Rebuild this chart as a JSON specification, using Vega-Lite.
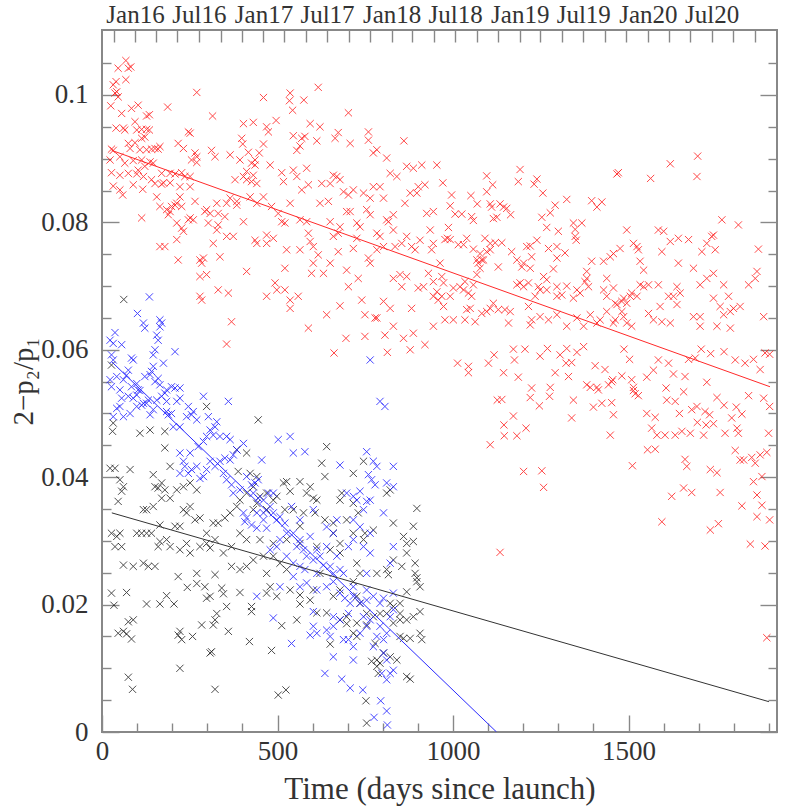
{
"$schema":"https://vega.github.io/schema/vega-lite/v6.json",
"width":675,"height":702,
"autosize":{"type":"none"},
"padding":{"left":102,"top":30,"right":12,"bottom":80},
"background":"white",
"config":{
 "view":{"stroke":"#888","strokeWidth":2},
 "axis":{"domain":false,"grid":false,"labelFont":"Liberation Serif","titleFont":"Liberation Serif","labelColor":"#333","titleColor":"#333","tickColor":"#888","tickWidth":1.4,"titleFontWeight":"normal","labelFlush":false,"labelOverlap":false}
},
"datasets":{
"red":[
{"t":68,"v":0.1054},{"t":46,"v":0.1042},{"t":75,"v":0.1042},{"t":82,"v":0.1044},{"t":40,"v":0.1021},{"t":68,"v":0.1024},{"t":32,"v":0.1016},{"t":42,"v":0.1005},{"t":46,"v":0.0997},{"t":37,"v":0.1003},{"t":270,"v":0.1004},{"t":25,"v":0.0983},{"t":84,"v":0.0979},{"t":103,"v":0.0984},{"t":56,"v":0.0971},{"t":127,"v":0.0967},{"t":135,"v":0.0969},{"t":187,"v":0.0981},{"t":460,"v":0.0996},{"t":536,"v":0.1003},{"t":534,"v":0.0991},{"t":543,"v":0.0976},{"t":575,"v":0.0992},{"t":616,"v":0.1012},{"t":702,"v":0.0972},{"t":315,"v":0.0967},{"t":40,"v":0.0948},{"t":61,"v":0.0948},{"t":65,"v":0.0945},{"t":94,"v":0.0958},{"t":99,"v":0.0945},{"t":113,"v":0.0946},{"t":127,"v":0.0946},{"t":135,"v":0.0945},{"t":113,"v":0.0932},{"t":122,"v":0.0934},{"t":246,"v":0.0942},{"t":251,"v":0.094},{"t":403,"v":0.0955},{"t":431,"v":0.0957},{"t":469,"v":0.095},{"t":474,"v":0.0942},{"t":496,"v":0.096},{"t":593,"v":0.0955},{"t":621,"v":0.095},{"t":545,"v":0.0936},{"t":569,"v":0.0932},{"t":578,"v":0.0935},{"t":564,"v":0.092},{"t":555,"v":0.0913},{"t":612,"v":0.0928},{"t":673,"v":0.0941},{"t":664,"v":0.0932},{"t":707,"v":0.0924},{"t":759,"v":0.0942},{"t":759,"v":0.0929},{"t":860,"v":0.0928},{"t":398,"v":0.0932},{"t":401,"v":0.0923},{"t":460,"v":0.0923},{"t":27,"v":0.0915},{"t":32,"v":0.0913},{"t":75,"v":0.0924},{"t":80,"v":0.0916},{"t":94,"v":0.0925},{"t":108,"v":0.0914},{"t":127,"v":0.0914},{"t":141,"v":0.0915},{"t":151,"v":0.0916},{"t":160,"v":0.0915},{"t":217,"v":0.0924},{"t":232,"v":0.0916},{"t":312,"v":0.0913},{"t":322,"v":0.0903},{"t":365,"v":0.0906},{"t":393,"v":0.0898},{"t":417,"v":0.091},{"t":448,"v":0.0909},{"t":426,"v":0.0893},{"t":436,"v":0.089},{"t":436,"v":0.0898},{"t":265,"v":0.0909},{"t":255,"v":0.0898},{"t":270,"v":0.0894},{"t":270,"v":0.0903},{"t":51,"v":0.0903},{"t":23,"v":0.0898},{"t":65,"v":0.0893},{"t":89,"v":0.0897},{"t":113,"v":0.0898},{"t":137,"v":0.0895},{"t":122,"v":0.0888},{"t":146,"v":0.0893},{"t":103,"v":0.0882},{"t":27,"v":0.0878},{"t":51,"v":0.0874},{"t":75,"v":0.0877},{"t":99,"v":0.0876},{"t":118,"v":0.0872},{"t":141,"v":0.0867},{"t":151,"v":0.0861},{"t":170,"v":0.086},{"t":175,"v":0.0862},{"t":194,"v":0.0877},{"t":208,"v":0.0876},{"t":227,"v":0.0878},{"t":236,"v":0.0872},{"t":251,"v":0.0856},{"t":222,"v":0.0856},{"t":194,"v":0.0862},{"t":251,"v":0.0872},{"t":32,"v":0.0857},{"t":51,"v":0.0851},{"t":59,"v":0.0843},{"t":89,"v":0.0859},{"t":116,"v":0.0852},{"t":170,"v":0.0877},{"t":156,"v":0.084},{"t":165,"v":0.0825},{"t":189,"v":0.0812},{"t":194,"v":0.0817},{"t":208,"v":0.0827},{"t":222,"v":0.084},{"t":227,"v":0.0825},{"t":213,"v":0.0799},{"t":227,"v":0.0791},{"t":232,"v":0.0786},{"t":246,"v":0.0804},{"t":251,"v":0.0807},{"t":260,"v":0.0804},{"t":265,"v":0.0833},{"t":293,"v":0.0817},{"t":298,"v":0.082},{"t":308,"v":0.0814},{"t":303,"v":0.0799},{"t":327,"v":0.083},{"t":331,"v":0.0814},{"t":331,"v":0.0796},{"t":350,"v":0.0809},{"t":355,"v":0.083},{"t":365,"v":0.0838},{"t":379,"v":0.0867},{"t":384,"v":0.0833},{"t":384,"v":0.0827},{"t":403,"v":0.0872},{"t":412,"v":0.088},{"t":412,"v":0.0867},{"t":426,"v":0.0864},{"t":441,"v":0.0861},{"t":431,"v":0.0874},{"t":479,"v":0.089},{"t":512,"v":0.0878},{"t":517,"v":0.0864},{"t":545,"v":0.0882},{"t":555,"v":0.0872},{"t":569,"v":0.0851},{"t":588,"v":0.0859},{"t":583,"v":0.0885},{"t":626,"v":0.0861},{"t":650,"v":0.0861},{"t":659,"v":0.0874},{"t":669,"v":0.0872},{"t":678,"v":0.0867},{"t":688,"v":0.0848},{"t":702,"v":0.0843},{"t":716,"v":0.0851},{"t":745,"v":0.0846},{"t":764,"v":0.0838},{"t":773,"v":0.0856},{"t":792,"v":0.0856},{"t":802,"v":0.0838},{"t":783,"v":0.0914},{"t":773,"v":0.0909},{"t":811,"v":0.0901},{"t":821,"v":0.0877},{"t":840,"v":0.0872},{"t":868,"v":0.0888},{"t":887,"v":0.0885},{"t":911,"v":0.089},{"t":954,"v":0.089},{"t":901,"v":0.0856},{"t":897,"v":0.0846},{"t":920,"v":0.0859},{"t":863,"v":0.083},{"t":878,"v":0.0846},{"t":830,"v":0.0812},{"t":811,"v":0.0804},{"t":925,"v":0.0814},{"t":944,"v":0.0817},{"t":422,"v":0.084},{"t":441,"v":0.083},{"t":460,"v":0.084},{"t":483,"v":0.0825},{"t":502,"v":0.0814},{"t":512,"v":0.0801},{"t":521,"v":0.0799},{"t":536,"v":0.083},{"t":564,"v":0.0804},{"t":583,"v":0.0801},{"t":588,"v":0.0783},{"t":593,"v":0.077},{"t":602,"v":0.0762},{"t":616,"v":0.0749},{"t":621,"v":0.083},{"t":645,"v":0.0833},{"t":650,"v":0.0801},{"t":659,"v":0.0778},{"t":673,"v":0.0783},{"t":678,"v":0.0793},{"t":697,"v":0.0817},{"t":707,"v":0.0817},{"t":726,"v":0.0799},{"t":735,"v":0.0793},{"t":754,"v":0.082},{"t":764,"v":0.0812},{"t":783,"v":0.0783},{"t":792,"v":0.0778},{"t":802,"v":0.0762},{"t":816,"v":0.0801},{"t":830,"v":0.0788},{"t":854,"v":0.0767},{"t":868,"v":0.0778},{"t":882,"v":0.0762},{"t":906,"v":0.0772},{"t":935,"v":0.0788},{"t":944,"v":0.0767},{"t":939,"v":0.0757},{"t":892,"v":0.0757},{"t":835,"v":0.0762},{"t":783,"v":0.0757},{"t":759,"v":0.0744},{"t":764,"v":0.0736},{"t":726,"v":0.0775},{"t":716,"v":0.0759},{"t":673,"v":0.0754},{"t":650,"v":0.0736},{"t":631,"v":0.072},{"t":602,"v":0.0736},{"t":597,"v":0.072},{"t":564,"v":0.0757},{"t":526,"v":0.0757},{"t":488,"v":0.0775},{"t":469,"v":0.0767},{"t":469,"v":0.078},{"t":441,"v":0.0767},{"t":436,"v":0.0772},{"t":403,"v":0.0801},{"t":374,"v":0.0778},{"t":355,"v":0.0778},{"t":327,"v":0.0788},{"t":317,"v":0.0767},{"t":279,"v":0.0741},{"t":284,"v":0.0736},{"t":289,"v":0.0744},{"t":279,"v":0.0715},{"t":298,"v":0.0718},{"t":279,"v":0.0684},{"t":284,"v":0.0678},{"t":331,"v":0.0694},{"t":360,"v":0.0689},{"t":336,"v":0.0746},{"t":412,"v":0.0723},{"t":469,"v":0.0684},{"t":493,"v":0.0705},{"t":498,"v":0.0694},{"t":521,"v":0.0694},{"t":536,"v":0.0678},{"t":559,"v":0.0684},{"t":536,"v":0.0665},{"t":521,"v":0.0728},{"t":678,"v":0.0669},{"t":697,"v":0.0725},{"t":702,"v":0.0699},{"t":730,"v":0.0712},{"t":740,"v":0.0678},{"t":749,"v":0.0655},{"t":783,"v":0.065},{"t":802,"v":0.0676},{"t":821,"v":0.0665},{"t":830,"v":0.0712},{"t":849,"v":0.0718},{"t":854,"v":0.0699},{"t":868,"v":0.0715},{"t":882,"v":0.0665},{"t":901,"v":0.0697},{"t":916,"v":0.0699},{"t":930,"v":0.072},{"t":944,"v":0.0707},{"t":954,"v":0.0691},{"t":944,"v":0.0684},{"t":958,"v":0.0678},{"t":369,"v":0.0644},{"t":588,"v":0.0634},{"t":640,"v":0.0655},{"t":778,"v":0.065},{"t":830,"v":0.0637},{"t":944,"v":0.0637},{"t":217,"v":0.0741},{"t":113,"v":0.0807},{"t":179,"v":0.0762},{"t":165,"v":0.0762},{"t":213,"v":0.0773},{"t":165,"v":0.0919},{"t":184,"v":0.082},{"t":198,"v":0.0825},{"t":213,"v":0.083},
{"t":355,"v":0.0609},{"t":661,"v":0.0595},{"t":695,"v":0.0618},{"t":749,"v":0.0621},{"t":806,"v":0.0623},{"t":813,"v":0.0596},{"t":859,"v":0.0618},{"t":887,"v":0.0626},{"t":878,"v":0.06},{"t":920,"v":0.0608},
{"t":1697,"v":0.0904},{"t":1619,"v":0.0892},{"t":1471,"v":0.0878},{"t":1467,"v":0.0876},{"t":1563,"v":0.0869},{"t":1695,"v":0.0872},{"t":1191,"v":0.0883},{"t":1186,"v":0.0864},{"t":1096,"v":0.0873},{"t":1113,"v":0.0859},{"t":1096,"v":0.0848},{"t":1051,"v":0.0842},{"t":996,"v":0.0843},{"t":971,"v":0.0862},{"t":1239,"v":0.0868},{"t":1231,"v":0.086},{"t":1256,"v":0.0846},{"t":992,"v":0.0826},{"t":1006,"v":0.0813},{"t":1025,"v":0.0813},{"t":1053,"v":0.0809},{"t":1058,"v":0.0803},{"t":1069,"v":0.0829},{"t":1106,"v":0.0829},{"t":1110,"v":0.0824},{"t":1115,"v":0.0806},{"t":1125,"v":0.0808},{"t":1134,"v":0.0829},{"t":1144,"v":0.0824},{"t":1153,"v":0.0822},{"t":1164,"v":0.0812},{"t":1253,"v":0.0808},{"t":1267,"v":0.0792},{"t":1277,"v":0.0815},{"t":1291,"v":0.0827},{"t":1324,"v":0.0836},{"t":1395,"v":0.0834},{"t":1410,"v":0.0824},{"t":1424,"v":0.0832},{"t":1343,"v":0.0799},{"t":1367,"v":0.0799},{"t":1348,"v":0.0789},{"t":1348,"v":0.0778},{"t":1351,"v":0.0772},{"t":1300,"v":0.0786},{"t":987,"v":0.0792},{"t":984,"v":0.0775},{"t":977,"v":0.0773},{"t":1015,"v":0.0765},{"t":1030,"v":0.0765},{"t":1039,"v":0.0775},{"t":1091,"v":0.0775},{"t":1120,"v":0.0768},{"t":1139,"v":0.0768},{"t":1058,"v":0.0758},{"t":1077,"v":0.0751},{"t":1082,"v":0.0741},{"t":1068,"v":0.0741},{"t":1096,"v":0.0754},{"t":1106,"v":0.0757},{"t":1129,"v":0.073},{"t":1167,"v":0.0754},{"t":1182,"v":0.0741},{"t":1201,"v":0.0736},{"t":1196,"v":0.073},{"t":1210,"v":0.0762},{"t":1220,"v":0.0763},{"t":1224,"v":0.0746},{"t":1220,"v":0.0728},{"t":1239,"v":0.0772},{"t":1272,"v":0.0759},{"t":1296,"v":0.0762},{"t":1296,"v":0.0744},{"t":1286,"v":0.0727},{"t":1319,"v":0.0752},{"t":1324,"v":0.07},{"t":1258,"v":0.0715},{"t":1267,"v":0.071},{"t":1243,"v":0.0699},{"t":1267,"v":0.0694},{"t":1296,"v":0.0699},{"t":1310,"v":0.0686},{"t":1296,"v":0.0684},{"t":1353,"v":0.0694},{"t":1362,"v":0.0689},{"t":1343,"v":0.0681},{"t":1381,"v":0.0723},{"t":1381,"v":0.0712},{"t":1376,"v":0.0707},{"t":1386,"v":0.0699},{"t":1395,"v":0.0739},{"t":1429,"v":0.0739},{"t":1438,"v":0.0712},{"t":1448,"v":0.0746},{"t":1457,"v":0.0751},{"t":1457,"v":0.0697},{"t":1429,"v":0.0694},{"t":1438,"v":0.0684},{"t":1462,"v":0.0673},{"t":1467,"v":0.0671},{"t":1481,"v":0.0676},{"t":1486,"v":0.0681},{"t":1495,"v":0.0673},{"t":1505,"v":0.0684},{"t":1509,"v":0.0689},{"t":1524,"v":0.0684},{"t":1533,"v":0.0702},{"t":1543,"v":0.0699},{"t":1557,"v":0.0702},{"t":1585,"v":0.0702},{"t":1590,"v":0.0668},{"t":1557,"v":0.0657},{"t":1571,"v":0.0647},{"t":1595,"v":0.0644},{"t":1619,"v":0.0642},{"t":1481,"v":0.066},{"t":1486,"v":0.0652},{"t":1495,"v":0.0642},{"t":1509,"v":0.0637},{"t":1476,"v":0.0759},{"t":1495,"v":0.0788},{"t":1514,"v":0.0767},{"t":1524,"v":0.0762},{"t":1528,"v":0.0757},{"t":1533,"v":0.0739},{"t":1543,"v":0.0725},{"t":1585,"v":0.0788},{"t":1595,"v":0.0754},{"t":1600,"v":0.0786},{"t":1619,"v":0.077},{"t":1642,"v":0.0775},{"t":1642,"v":0.0736},{"t":1671,"v":0.0773},{"t":1685,"v":0.0728},{"t":1709,"v":0.0754},{"t":1723,"v":0.0767},{"t":1737,"v":0.0778},{"t":1742,"v":0.078},{"t":1747,"v":0.0757},{"t":1766,"v":0.0804},{"t":1813,"v":0.0796},{"t":1870,"v":0.0758},{"t":1866,"v":0.0723},{"t":1861,"v":0.0712},{"t":1842,"v":0.0702},{"t":1742,"v":0.072},{"t":1723,"v":0.0712},{"t":1704,"v":0.0702},{"t":1771,"v":0.0702},{"t":1785,"v":0.0684},{"t":1761,"v":0.0668},{"t":1771,"v":0.0655},{"t":1799,"v":0.0665},{"t":1818,"v":0.0668},{"t":1790,"v":0.066},{"t":1742,"v":0.0681},{"t":1685,"v":0.0652},{"t":1704,"v":0.0652},{"t":1638,"v":0.0699},{"t":1647,"v":0.0689},{"t":1628,"v":0.0684},{"t":1614,"v":0.0684},{"t":1638,"v":0.0671},{"t":1704,"v":0.0637},{"t":1752,"v":0.0637},{"t":1790,"v":0.0634},{"t":1885,"v":0.0652},{"t":992,"v":0.0773},{"t":963,"v":0.0736},{"t":968,"v":0.0715},{"t":973,"v":0.0705},{"t":968,"v":0.0684},{"t":992,"v":0.0684},{"t":1001,"v":0.0697},{"t":1020,"v":0.0699},{"t":1030,"v":0.0694},{"t":1034,"v":0.0707},{"t":1044,"v":0.0689},{"t":1053,"v":0.0684},{"t":1049,"v":0.0665},{"t":1058,"v":0.0702},{"t":1068,"v":0.0718},{"t":1072,"v":0.0736},{"t":1077,"v":0.0728},{"t":1087,"v":0.0741},{"t":1106,"v":0.0767},{"t":973,"v":0.0668},{"t":977,"v":0.0647},{"t":1001,"v":0.0647},{"t":1034,"v":0.0647},{"t":1039,"v":0.0663},{"t":1063,"v":0.0644},{"t":1082,"v":0.0657},{"t":1096,"v":0.066},{"t":1106,"v":0.0665},{"t":1115,"v":0.0673},{"t":1129,"v":0.0663},{"t":1148,"v":0.0663},{"t":1158,"v":0.0642},{"t":1163,"v":0.066},{"t":1182,"v":0.0702},{"t":1191,"v":0.0705},{"t":1201,"v":0.0699},{"t":1215,"v":0.0705},{"t":1215,"v":0.0668},{"t":1224,"v":0.0647},{"t":1220,"v":0.0639},{"t":1248,"v":0.0652},{"t":1234,"v":0.0684},{"t":1248,"v":0.0694},{"t":1272,"v":0.0647},{"t":1296,"v":0.0655},{"t":1324,"v":0.0637},{"t":1353,"v":0.065},{"t":1372,"v":0.0637},{"t":1391,"v":0.0655},{"t":1410,"v":0.0642},{"t":1419,"v":0.0647},{"t":1438,"v":0.066},{"t":1457,"v":0.0642},{"t":1462,"v":0.0647},
{"t":1013,"v":0.0579},{"t":1044,"v":0.0574},{"t":1044,"v":0.0564},{"t":1101,"v":0.0579},{"t":1117,"v":0.0592},{"t":1144,"v":0.0564},{"t":1172,"v":0.0601},{"t":1175,"v":0.0584},{"t":1186,"v":0.0557},{"t":1205,"v":0.0601},{"t":1248,"v":0.059},{"t":1269,"v":0.0602},{"t":1291,"v":0.0564},{"t":1305,"v":0.0592},{"t":1324,"v":0.0602},{"t":1322,"v":0.0579},{"t":1329,"v":0.0558},{"t":1338,"v":0.058},{"t":1353,"v":0.0596},{"t":1372,"v":0.0605},{"t":1405,"v":0.0575},{"t":1433,"v":0.0569},{"t":1455,"v":0.0553},{"t":1481,"v":0.0559},{"t":1487,"v":0.0601},{"t":1503,"v":0.0585},{"t":1509,"v":0.0553},{"t":1514,"v":0.0541},{"t":1528,"v":0.0528},{"t":1552,"v":0.0557},{"t":1571,"v":0.0568},{"t":1585,"v":0.0584},{"t":1614,"v":0.0579},{"t":1628,"v":0.0562},{"t":1661,"v":0.0558},{"t":1671,"v":0.0585},{"t":1690,"v":0.0587},{"t":1707,"v":0.0601},{"t":1734,"v":0.0594},{"t":1772,"v":0.0597},{"t":1804,"v":0.0584},{"t":1832,"v":0.0579},{"t":1856,"v":0.0585},{"t":1875,"v":0.0569},{"t":1902,"v":0.0593},{"t":1889,"v":0.0595},{"t":1391,"v":0.0541},{"t":1410,"v":0.0541},{"t":1414,"v":0.0537},{"t":1443,"v":0.0545},{"t":1452,"v":0.055},{"t":1514,"v":0.0536},{"t":1519,"v":0.0531},{"t":1381,"v":0.0545},{"t":1224,"v":0.054},{"t":1220,"v":0.0525},{"t":1246,"v":0.0512},{"t":1277,"v":0.0541},{"t":1275,"v":0.0527},{"t":1343,"v":0.0521},{"t":1400,"v":0.051},{"t":1424,"v":0.0516},{"t":1452,"v":0.0517},{"t":1457,"v":0.0498},{"t":1172,"v":0.0496},{"t":1145,"v":0.0482},{"t":1146,"v":0.0465},{"t":1182,"v":0.0465},{"t":1208,"v":0.0477},{"t":1126,"v":0.0521},{"t":1139,"v":0.0522},{"t":1106,"v":0.0451},{"t":1338,"v":0.0493},{"t":1448,"v":0.0466},{"t":1552,"v":0.05},{"t":1576,"v":0.0494},{"t":1609,"v":0.0521},{"t":1633,"v":0.0519},{"t":1645,"v":0.05},{"t":1657,"v":0.0534},{"t":1607,"v":0.054},{"t":1680,"v":0.0506},{"t":1695,"v":0.0511},{"t":1718,"v":0.0503},{"t":1731,"v":0.0498},{"t":1742,"v":0.0484},{"t":1696,"v":0.0486},{"t":1721,"v":0.0482},{"t":1714,"v":0.0466},{"t":1676,"v":0.0469},{"t":1652,"v":0.0472},{"t":1633,"v":0.0466},{"t":1604,"v":0.0466},{"t":1581,"v":0.0466},{"t":1566,"v":0.0477},{"t":1752,"v":0.0525},{"t":1772,"v":0.0513},{"t":1807,"v":0.051},{"t":1794,"v":0.0493},{"t":1823,"v":0.0499},{"t":1809,"v":0.0477},{"t":1813,"v":0.0469},{"t":1775,"v":0.0469},{"t":1842,"v":0.0528},{"t":1885,"v":0.0524},{"t":1902,"v":0.0511},{"t":1899,"v":0.0469},{"t":1804,"v":0.0442},{"t":1818,"v":0.0427},{"t":1828,"v":0.0427},{"t":1851,"v":0.0431},{"t":1861,"v":0.0422},{"t":1856,"v":0.0393},{"t":1880,"v":0.0401},{"t":1894,"v":0.0439},{"t":1875,"v":0.0435},{"t":1866,"v":0.0372},{"t":1880,"v":0.0356},{"t":1823,"v":0.0355},{"t":1866,"v":0.0338},{"t":1902,"v":0.0333},{"t":1889,"v":0.0292},{"t":1847,"v":0.0295},{"t":1733,"v":0.0317},{"t":1756,"v":0.0327},{"t":1595,"v":0.033},{"t":1623,"v":0.037},{"t":1680,"v":0.0376},{"t":1657,"v":0.0383},{"t":1666,"v":0.0417},{"t":1661,"v":0.0428},{"t":1733,"v":0.0412},{"t":1752,"v":0.0407},{"t":1761,"v":0.0376},{"t":1554,"v":0.0443},{"t":1576,"v":0.0444},{"t":1511,"v":0.0418},{"t":1201,"v":0.0409},{"t":1253,"v":0.041},{"t":1258,"v":0.0384},{"t":1134,"v":0.0282},{"t":1894,"v":0.0148},{"t":1723,"v":0.0549}
],
"blue":[
{"t":135,"v":0.0683},{"t":101,"v":0.0657},{"t":118,"v":0.0642},{"t":122,"v":0.0634},{"t":165,"v":0.0647},{"t":170,"v":0.0642},{"t":165,"v":0.0636},{"t":37,"v":0.0627},{"t":23,"v":0.0615},{"t":32,"v":0.061},{"t":56,"v":0.0608},{"t":156,"v":0.0623},{"t":160,"v":0.0615},{"t":151,"v":0.06},{"t":208,"v":0.0597},{"t":146,"v":0.0592},{"t":27,"v":0.0592},{"t":32,"v":0.0584},{"t":84,"v":0.0587},{"t":89,"v":0.0584},{"t":175,"v":0.0579},{"t":146,"v":0.0574},{"t":141,"v":0.0566},{"t":75,"v":0.0568},{"t":70,"v":0.056},{"t":61,"v":0.0553},{"t":42,"v":0.0558},{"t":23,"v":0.0553},{"t":27,"v":0.0542},{"t":51,"v":0.0537},{"t":84,"v":0.0542},{"t":99,"v":0.0547},{"t":108,"v":0.0536},{"t":122,"v":0.0558},{"t":137,"v":0.0561},{"t":151,"v":0.055},{"t":160,"v":0.0555},{"t":165,"v":0.0545},{"t":184,"v":0.0537},{"t":179,"v":0.0532},{"t":198,"v":0.0542},{"t":208,"v":0.054},{"t":222,"v":0.054},{"t":222,"v":0.0524},{"t":213,"v":0.0519},{"t":184,"v":0.0519},{"t":170,"v":0.0527},{"t":156,"v":0.0521},{"t":132,"v":0.0521},{"t":118,"v":0.0516},{"t":103,"v":0.0537},{"t":99,"v":0.0529},{"t":89,"v":0.0524},{"t":75,"v":0.0527},{"t":56,"v":0.0524},{"t":51,"v":0.0511},{"t":42,"v":0.0508},{"t":32,"v":0.0495},{"t":61,"v":0.0495},{"t":80,"v":0.05},{"t":99,"v":0.0511},{"t":113,"v":0.0513},{"t":127,"v":0.0516},{"t":137,"v":0.0498},{"t":146,"v":0.0506},{"t":184,"v":0.0503},{"t":189,"v":0.0498},{"t":198,"v":0.05},{"t":203,"v":0.0479},{"t":222,"v":0.0479},{"t":241,"v":0.0495},{"t":255,"v":0.0498},{"t":246,"v":0.0511},{"t":260,"v":0.0503},{"t":270,"v":0.049},{"t":289,"v":0.0527},{"t":360,"v":0.0519},{"t":303,"v":0.0495},{"t":308,"v":0.0474},{"t":322,"v":0.0479},{"t":327,"v":0.0487},{"t":298,"v":0.0464},{"t":317,"v":0.0466},{"t":336,"v":0.0464},{"t":355,"v":0.0464},{"t":365,"v":0.0459},{"t":289,"v":0.0456},{"t":274,"v":0.0448},{"t":251,"v":0.0438},{"t":222,"v":0.0438},{"t":232,"v":0.0425},{"t":236,"v":0.0417},{"t":222,"v":0.0406},{"t":246,"v":0.0406},{"t":255,"v":0.0412},{"t":270,"v":0.0417},{"t":279,"v":0.0398},{"t":289,"v":0.0401},{"t":298,"v":0.0412},{"t":308,"v":0.0425},{"t":322,"v":0.0417},{"t":336,"v":0.0425},{"t":350,"v":0.043},{"t":365,"v":0.0427},{"t":374,"v":0.0435},{"t":384,"v":0.0443},{"t":403,"v":0.0453},{"t":346,"v":0.0406},{"t":355,"v":0.0396},{"t":369,"v":0.0388},{"t":374,"v":0.0375},{"t":393,"v":0.038},{"t":412,"v":0.0401},{"t":426,"v":0.0388},{"t":436,"v":0.0391},{"t":445,"v":0.0396},{"t":455,"v":0.0427},{"t":431,"v":0.0375},{"t":445,"v":0.0367},{"t":460,"v":0.0364},{"t":474,"v":0.0375},{"t":488,"v":0.0375},{"t":479,"v":0.0354},{"t":460,"v":0.0344},{"t":441,"v":0.0344},{"t":412,"v":0.0336},{"t":403,"v":0.0344},{"t":407,"v":0.033},{"t":426,"v":0.0325},{"t":441,"v":0.032},{"t":460,"v":0.0333},{"t":469,"v":0.032},{"t":488,"v":0.0344},{"t":498,"v":0.0333},{"t":507,"v":0.0338},{"t":521,"v":0.0328},{"t":540,"v":0.0354},{"t":526,"v":0.0312},{"t":507,"v":0.0302},{"t":498,"v":0.0291},{"t":545,"v":0.0312},{"t":555,"v":0.0291},{"t":564,"v":0.0302},{"t":574,"v":0.0286},{"t":583,"v":0.0276},{"t":602,"v":0.027},{"t":621,"v":0.0276},{"t":631,"v":0.0262},{"t":650,"v":0.026},{"t":659,"v":0.0249},{"t":678,"v":0.0255},{"t":688,"v":0.0249},{"t":669,"v":0.0276},{"t":640,"v":0.0291},{"t":612,"v":0.0286},{"t":593,"v":0.0307},{"t":602,"v":0.0349},{"t":564,"v":0.0333},{"t":479,"v":0.0286},{"t":526,"v":0.0276},{"t":545,"v":0.0265},{"t":564,"v":0.026},{"t":578,"v":0.0255},{"t":502,"v":0.0459},{"t":536,"v":0.0464},{"t":545,"v":0.0438},{"t":578,"v":0.044},{"t":640,"v":0.0322},{"t":659,"v":0.0312},{"t":669,"v":0.0333},{"t":678,"v":0.0419},{"t":697,"v":0.0375},{"t":716,"v":0.037},{"t":735,"v":0.0378},{"t":726,"v":0.0364},{"t":754,"v":0.0362},{"t":764,"v":0.0364},{"t":745,"v":0.0349},{"t":716,"v":0.0333},{"t":735,"v":0.0322},{"t":764,"v":0.0312},{"t":716,"v":0.0302},{"t":702,"v":0.0291},{"t":745,"v":0.0291},{"t":764,"v":0.0281},{"t":783,"v":0.0417},{"t":759,"v":0.0404},{"t":768,"v":0.0396},{"t":778,"v":0.0388},{"t":754,"v":0.044},{"t":773,"v":0.0425},{"t":811,"v":0.0391},{"t":830,"v":0.0417},{"t":830,"v":0.0385},{"t":792,"v":0.0519},{"t":806,"v":0.0511},{"t":764,"v":0.0584},{"t":802,"v":0.0344},{"t":830,"v":0.0291},{"t":821,"v":0.0265},{"t":754,"v":0.0249},{"t":612,"v":0.0249},{"t":545,"v":0.0244},
{"t":507,"v":0.0228},{"t":564,"v":0.0228},{"t":583,"v":0.0234},{"t":612,"v":0.0223},{"t":640,"v":0.0228},{"t":659,"v":0.0236},{"t":678,"v":0.0218},{"t":692,"v":0.021},{"t":707,"v":0.0202},{"t":716,"v":0.0213},{"t":735,"v":0.0202},{"t":754,"v":0.0207},{"t":773,"v":0.0213},{"t":792,"v":0.0202},{"t":802,"v":0.021},{"t":754,"v":0.0223},{"t":716,"v":0.0228},{"t":702,"v":0.0186},{"t":678,"v":0.0176},{"t":659,"v":0.0166},{"t":640,"v":0.016},{"t":650,"v":0.015},{"t":612,"v":0.0155},{"t":602,"v":0.0166},{"t":593,"v":0.0152},{"t":540,"v":0.0139},{"t":602,"v":0.0189},{"t":659,"v":0.0181},{"t":688,"v":0.0145},{"t":702,"v":0.0145},{"t":716,"v":0.0134},{"t":735,"v":0.0155},{"t":754,"v":0.0166},{"t":764,"v":0.0176},{"t":745,"v":0.0181},{"t":783,"v":0.015},{"t":802,"v":0.0145},{"t":811,"v":0.0155},{"t":821,"v":0.0181},{"t":830,"v":0.0218},{"t":830,"v":0.0192},{"t":792,"v":0.0166},{"t":773,"v":0.0134},{"t":802,"v":0.0124},{"t":811,"v":0.0113},{"t":821,"v":0.0092},{"t":830,"v":0.0097},{"t":811,"v":0.0082},{"t":797,"v":0.0092},{"t":659,"v":0.0118},{"t":716,"v":0.0113},{"t":635,"v":0.0092},{"t":683,"v":0.0083},{"t":707,"v":0.0069},{"t":743,"v":0.0066},{"t":794,"v":0.0049},{"t":811,"v":0.0033},{"t":775,"v":0.0023},{"t":813,"v":0.0011},{"t":488,"v":0.0179},{"t":441,"v":0.0213}
],
"black":[
{"t":62,"v":0.0679},{"t":27,"v":0.0576},{"t":32,"v":0.0485},{"t":30,"v":0.0472},{"t":108,"v":0.0469},{"t":137,"v":0.0474},{"t":179,"v":0.0446},{"t":179,"v":0.0472},{"t":194,"v":0.0417},{"t":23,"v":0.0414},{"t":37,"v":0.0414},{"t":80,"v":0.0412},{"t":146,"v":0.0404},{"t":151,"v":0.0385},{"t":170,"v":0.0391},{"t":51,"v":0.0396},{"t":61,"v":0.0385},{"t":56,"v":0.0378},{"t":46,"v":0.0362},{"t":118,"v":0.0349},{"t":127,"v":0.0349},{"t":146,"v":0.0354},{"t":160,"v":0.0383},{"t":170,"v":0.0367},{"t":179,"v":0.038},{"t":194,"v":0.0367},{"t":213,"v":0.038},{"t":232,"v":0.0385},{"t":251,"v":0.0391},{"t":270,"v":0.038},{"t":251,"v":0.0354},{"t":265,"v":0.0333},{"t":279,"v":0.0336},{"t":232,"v":0.0349},{"t":241,"v":0.0344},{"t":222,"v":0.0323},{"t":208,"v":0.0323},{"t":165,"v":0.0325},{"t":141,"v":0.0312},{"t":127,"v":0.0312},{"t":113,"v":0.0312},{"t":99,"v":0.0312},{"t":27,"v":0.0312},{"t":42,"v":0.0307},{"t":51,"v":0.0312},{"t":37,"v":0.0291},{"t":56,"v":0.0291},{"t":61,"v":0.0262},{"t":89,"v":0.026},{"t":118,"v":0.0265},{"t":132,"v":0.026},{"t":151,"v":0.026},{"t":160,"v":0.0291},{"t":165,"v":0.0299},{"t":184,"v":0.0302},{"t":194,"v":0.0291},{"t":222,"v":0.0286},{"t":241,"v":0.0296},{"t":251,"v":0.0281},{"t":279,"v":0.0291},{"t":298,"v":0.0296},{"t":308,"v":0.0289},{"t":322,"v":0.0302},{"t":346,"v":0.0281},{"t":369,"v":0.0291},{"t":217,"v":0.0244},{"t":270,"v":0.0249},{"t":298,"v":0.0312},{"t":317,"v":0.0328},{"t":331,"v":0.0328},{"t":350,"v":0.0336},{"t":365,"v":0.0344},{"t":384,"v":0.0354},{"t":393,"v":0.0364},{"t":412,"v":0.0375},{"t":431,"v":0.0385},{"t":441,"v":0.0401},{"t":422,"v":0.0406},{"t":388,"v":0.0409},{"t":298,"v":0.0511},{"t":445,"v":0.049},{"t":384,"v":0.0443},{"t":412,"v":0.0438},{"t":626,"v":0.0422},{"t":640,"v":0.0448},{"t":716,"v":0.0406},{"t":745,"v":0.0425},{"t":635,"v":0.0401},{"t":517,"v":0.0391},{"t":526,"v":0.0393},{"t":564,"v":0.0393},{"t":593,"v":0.0385},{"t":602,"v":0.0367},{"t":612,"v":0.0364},{"t":583,"v":0.0375},{"t":536,"v":0.0378},{"t":498,"v":0.037},{"t":488,"v":0.0364},{"t":469,"v":0.0375},{"t":450,"v":0.037},{"t":441,"v":0.0359},{"t":431,"v":0.0349},{"t":469,"v":0.0349},{"t":521,"v":0.0349},{"t":545,"v":0.0349},{"t":564,"v":0.0323},{"t":574,"v":0.0344},{"t":607,"v":0.0344},{"t":659,"v":0.0328},{"t":697,"v":0.0333},{"t":716,"v":0.0359},{"t":683,"v":0.0375},{"t":678,"v":0.0364},{"t":730,"v":0.0344},{"t":749,"v":0.0312},{"t":716,"v":0.0312},{"t":659,"v":0.0312},{"t":635,"v":0.0333},{"t":678,"v":0.0296},{"t":745,"v":0.0302},{"t":773,"v":0.0317},{"t":830,"v":0.0328},{"t":887,"v":0.0323},{"t":897,"v":0.0351},{"t":811,"v":0.0375},{"t":821,"v":0.038},{"t":859,"v":0.0307},{"t":868,"v":0.0296},{"t":887,"v":0.0299},{"t":830,"v":0.027},{"t":868,"v":0.0281},{"t":811,"v":0.0255},{"t":854,"v":0.026},{"t":892,"v":0.0265},{"t":726,"v":0.0265},{"t":678,"v":0.0281},{"t":650,"v":0.0286},{"t":612,"v":0.0291},{"t":564,"v":0.0296},{"t":526,"v":0.0302},{"t":488,"v":0.0296},{"t":450,"v":0.0302},{"t":412,"v":0.0302},{"t":393,"v":0.0312},{"t":369,"v":0.026},{"t":393,"v":0.0255},{"t":412,"v":0.026},{"t":431,"v":0.027},{"t":460,"v":0.0276},{"t":488,"v":0.0276},{"t":507,"v":0.0265},{"t":526,"v":0.0255},{"t":322,"v":0.0247},{"t":469,"v":0.0249},{"t":621,"v":0.0249},{"t":735,"v":0.0249},{"t":783,"v":0.0249},{"t":816,"v":0.0247},{"t":892,"v":0.0249},{"t":897,"v":0.0242},
{"t":27,"v":0.0218},{"t":34,"v":0.0199},{"t":70,"v":0.0219},{"t":127,"v":0.0201},{"t":165,"v":0.0201},{"t":205,"v":0.0201},{"t":184,"v":0.0214},{"t":243,"v":0.0227},{"t":61,"v":0.0158},{"t":46,"v":0.0155},{"t":70,"v":0.0154},{"t":84,"v":0.0146},{"t":89,"v":0.0176},{"t":75,"v":0.0173},{"t":222,"v":0.0158},{"t":217,"v":0.0152},{"t":227,"v":0.0145},{"t":258,"v":0.015},{"t":284,"v":0.0168},{"t":317,"v":0.0168},{"t":322,"v":0.0176},{"t":327,"v":0.0186},{"t":360,"v":0.0158},{"t":312,"v":0.0126},{"t":308,"v":0.0124},{"t":420,"v":0.0142},{"t":483,"v":0.0128},{"t":222,"v":0.01},{"t":75,"v":0.0086},{"t":87,"v":0.0067},{"t":322,"v":0.0067},{"t":502,"v":0.0058},{"t":524,"v":0.0066},{"t":426,"v":0.0197},{"t":426,"v":0.0189},{"t":393,"v":0.0219},{"t":355,"v":0.0197},{"t":346,"v":0.0217},{"t":341,"v":0.0226},{"t":308,"v":0.0213},{"t":298,"v":0.021},{"t":293,"v":0.0228},{"t":270,"v":0.0233},{"t":564,"v":0.0201},{"t":512,"v":0.0167},{"t":555,"v":0.0176},{"t":612,"v":0.0187},{"t":650,"v":0.0138},{"t":697,"v":0.017},{"t":716,"v":0.0155},{"t":754,"v":0.0168},{"t":726,"v":0.015},{"t":778,"v":0.0139},{"t":783,"v":0.0113},{"t":792,"v":0.0108},{"t":783,"v":0.0103},{"t":768,"v":0.0111},{"t":787,"v":0.0092},{"t":802,"v":0.0124},{"t":821,"v":0.0118},{"t":840,"v":0.0113},{"t":849,"v":0.015},{"t":859,"v":0.0147},{"t":878,"v":0.0147},{"t":906,"v":0.0155},{"t":911,"v":0.0145},{"t":868,"v":0.0087},{"t":878,"v":0.0083},{"t":830,"v":0.0171},{"t":849,"v":0.0176},{"t":868,"v":0.0176},{"t":887,"v":0.0181},{"t":906,"v":0.0189},{"t":830,"v":0.0197},{"t":849,"v":0.0202},{"t":849,"v":0.0186},{"t":811,"v":0.0186},{"t":792,"v":0.0186},{"t":773,"v":0.0181},{"t":754,"v":0.0186},{"t":726,"v":0.0171},{"t":697,"v":0.0181},{"t":678,"v":0.0176},{"t":659,"v":0.0213},{"t":678,"v":0.0223},{"t":716,"v":0.0236},{"t":726,"v":0.0213},{"t":735,"v":0.0202},{"t":640,"v":0.0187},{"t":593,"v":0.0207},{"t":564,"v":0.0215},{"t":536,"v":0.0223},{"t":498,"v":0.0213},{"t":479,"v":0.0228},{"t":469,"v":0.0218},{"t":602,"v":0.0223},{"t":752,"v":0.0049},{"t":754,"v":0.0014},{"t":868,"v":0.022},{"t":897,"v":0.0236},{"t":821,"v":0.0202},{"t":906,"v":0.0228}
],
"redfit":[{"t":28,"v":0.0913},{"t":1903,"v":0.0542}],
"bluefit":[{"t":28,"v":0.0581},{"t":1124,"v":0}],
"blackfit":[{"t":28,"v":0.0344},{"t":1900,"v":0.00476}]
},
"resolve":{"axis":{"x":"independent","y":"independent"}},
"layer":[
{"data":{"name":"red"},
 "mark":{"type":"point","shape":"M-1,-1L1,1M-1,1L1,-1","filled":false,"size":52,"strokeWidth":1,"color":"#ff1a1a","opacity":0.8,"clip":true},
 "encoding":{
  "x":{"field":"t","type":"quantitative","scale":{"domain":[0,1923],"nice":false,"zero":false},
   "axis":{"orient":"bottom","values":[0,500,1000,1500],"format":"d","ticks":false,"labelFontSize":27,"labelBaseline":"alphabetic","labelPadding":27,"title":"Time (days since launch)","titleFontSize":31,"titleBaseline":"alphabetic","titleY":66}},
  "y":{"field":"v","type":"quantitative","scale":{"domain":[0,0.1102],"nice":false,"zero":false},
   "axis":{"orient":"left","values":[0,0.02,0.04,0.06,0.08,0.1],"format":".2~f","ticks":false,"labelFontSize":27,"labelPadding":14,"title":"2−p₂/p₁","titleFontSize":29,"titleX":-64,"titleY":351}}}},
{"data":{"name":"black"},
 "mark":{"type":"point","shape":"M-1,-1L1,1M-1,1L1,-1","filled":false,"size":52,"strokeWidth":1,"color":"#111111","opacity":0.75,"clip":true},
 "encoding":{
  "x":{"field":"t","type":"quantitative","scale":{"domain":[0,1923],"nice":false,"zero":false},
   "axis":{"orient":"bottom","values":[0,500,1000,1500],"labels":false,"tickSize":-17,"title":null}},
  "y":{"field":"v","type":"quantitative","scale":{"domain":[0,0.1102],"nice":false,"zero":false},
   "axis":{"orient":"left","values":[0,0.02,0.04,0.06,0.08,0.1],"labels":false,"tickSize":-17,"title":null}}}},
{"data":{"name":"blue"},
 "mark":{"type":"point","shape":"M-1,-1L1,1M-1,1L1,-1","filled":false,"size":52,"strokeWidth":1,"color":"#1a1aff","opacity":0.8,"clip":true},
 "encoding":{
  "x":{"field":"t","type":"quantitative","scale":{"domain":[0,1923],"nice":false,"zero":false},
   "axis":{"orient":"bottom","values":[100,200,300,400,600,700,800,900,1100,1200,1300,1400,1600,1700,1800,1900],"labels":false,"tickSize":-9,"title":null}},
  "y":{"field":"v","type":"quantitative","scale":{"domain":[0,0.1102],"nice":false,"zero":false},
   "axis":{"orient":"left","values":[0.005,0.01,0.015,0.025,0.03,0.035,0.045,0.05,0.055,0.065,0.07,0.075,0.085,0.09,0.095,0.105],"labels":false,"tickSize":-9,"title":null}}}},
{"data":{"name":"redfit"},
 "mark":{"type":"line","color":"#ff2a2a","strokeWidth":1,"clip":true},
 "encoding":{
  "x":{"field":"t","type":"quantitative","scale":{"domain":[0,1923],"nice":false,"zero":false},
   "axis":{"orient":"top","values":[33,94,154,215,276,338,399,460,519,580,641,703,764,825,884,945,1006,1068,1129,1190,1249,1310,1371,1433,1494,1555,1615,1676,1737,1799,1860],"labels":false,"tickSize":-12,"title":null}},
  "y":{"field":"v","type":"quantitative","scale":{"domain":[0,0.1102],"nice":false,"zero":false},
   "axis":{"orient":"right","values":[0,0.02,0.04,0.06,0.08,0.1],"labels":false,"tickSize":-17,"title":null}}}},
{"data":{"name":"bluefit"},
 "mark":{"type":"line","color":"#2a2aff","strokeWidth":1,"clip":true},
 "encoding":{
  "x":{"field":"t","type":"quantitative","scale":{"domain":[0,1923],"nice":false,"zero":false},
   "axis":{"orient":"top","values":[94,276,460,641,825,1006,1190,1371,1555,1737],"ticks":false,"labelFontSize":25,"labelBaseline":"alphabetic","labelPadding":8,"title":null,
    "labelExpr":"datum.value==94?'Jan16':datum.value==276?'Jul16':datum.value==460?'Jan17':datum.value==641?'Jul17':datum.value==825?'Jan18':datum.value==1006?'Jul18':datum.value==1190?'Jan19':datum.value==1371?'Jul19':datum.value==1555?'Jan20':'Jul20'"}},
  "y":{"field":"v","type":"quantitative","scale":{"domain":[0,0.1102],"nice":false,"zero":false},
   "axis":{"orient":"right","values":[0.005,0.01,0.015,0.025,0.03,0.035,0.045,0.05,0.055,0.065,0.07,0.075,0.085,0.09,0.095,0.105],"labels":false,"tickSize":-9,"title":null}}}},
{"data":{"name":"blackfit"},
 "mark":{"type":"line","color":"#333333","strokeWidth":1,"clip":true},
 "encoding":{
  "x":{"field":"t","type":"quantitative","scale":{"domain":[0,1923],"nice":false,"zero":false},"axis":null},
  "y":{"field":"v","type":"quantitative","scale":{"domain":[0,0.1102],"nice":false,"zero":false},"axis":null}}}
]
}
